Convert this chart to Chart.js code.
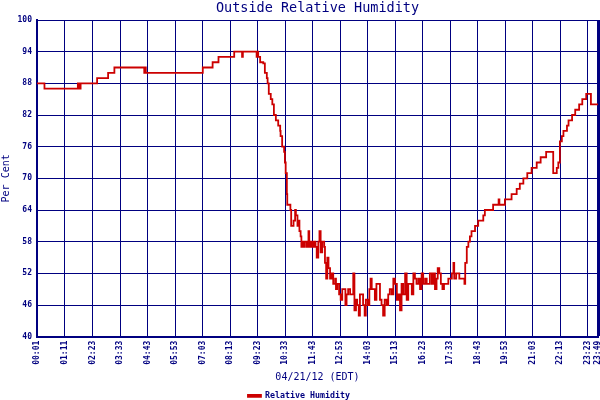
<!DOCTYPE html>
<html>
<head>
<meta charset="utf-8">
<script src="https://cdn.jsdelivr.net/npm/chart.js@4/dist/chart.umd.min.js"></script>
<style>
  html, body { margin: 0; padding: 0; background: #ffffff; }
  #wrap { width: 600px; height: 400px; position: relative; }
</style>
</head>
<body>
<div id="wrap"><canvas id="c" width="600" height="400"></canvas></div>
<script>
// ---- data ----
const times = ["00:01","00:20","01:45","01:49","01:52","02:34","03:02","03:18","04:34","04:36","04:38",
"07:03","07:28","07:43","08:23","08:43","08:45","09:20","09:22","09:24","09:29","09:37","09:41","09:46","09:48",
"09:51","09:56","10:00","10:04","10:09","10:15","10:20","10:21","10:25","10:30","10:32","10:34","10:37","10:38",
"10:46","10:48","10:51","10:54","10:58","11:00","11:04","11:06","11:09","11:12","11:14","11:17","11:21","11:23",
"11:28","11:30","11:32","11:34","11:38","11:42","11:46","11:50","11:53","11:57","12:00","12:03","12:07","12:12",
"12:14","12:17","12:20","12:23","12:27","12:31","12:35","12:40","12:42","12:45","12:50","12:54","12:58","13:03",
"13:06","13:09","13:13","13:18","13:22","13:26","13:29","13:33","13:36","13:40","13:43","13:47","13:51","13:55",
"13:58","14:03","14:07","14:10","14:13","14:17","14:21","14:25","14:29","14:34","14:38","14:42","14:46","14:51",
"14:55","14:59","15:04","15:08","15:12","15:17","15:21","15:25","15:29","15:33","15:38","15:42","15:46","15:50",
"15:55","15:59","16:03","16:07","16:12","16:16","16:20","16:24","16:29","16:33","16:37","16:41","16:46","16:50",
"16:54","16:58","17:01","17:05","17:09","17:13","17:17","17:24","17:28","17:32","17:37","17:41","17:43","17:48",
"17:52","17:56","18:02","18:06","18:09","18:11","18:15","18:19","18:23","18:27","18:32","18:36","18:44","18:57",
"19:01","19:22","19:36","19:38","19:52","20:09","20:22","20:30","20:39","20:49","21:00","21:13","21:23","21:37",
"21:55","22:04","22:08","22:12","22:17","22:21","22:25","22:30","22:34","22:43","22:51","23:01","23:09","23:19",
"23:31","23:49"];
const humidity = [88,87,88,87,88,89,90,91,90,91,90,
91,92,93,94,93,94,93,94,93,92,91.8,90,89,88,
86,85,84,82,81,80,79,78,76,75,73,71,67,65,
64,61,61,62,64,63,61,62,60,59,57,58,57,58,
57,58,60,57,58,57,58,57,55,58,60,56,58,57,
54,51,55,53,51,52,50,51,49,50,48,47,49,49,
46,48,49,48,48,52,45,47,46,44,48,48,46,44,
47,46,49,51,49,49,47,50,50,47,46,44,47,46,
48,49,48,51,50,47,48,45,50,48,52,47,50,50,
48,52,51,50,51,49,52,50,51,50,50,52,50,52,
49,51,53,52,50,49,50,50,51,51,52,54,51,52,
52,51,51,51,50,54,57,58,59,60,60,61,62,63,
64,65,66,65,66,67,68,69,70,71,72,73,74,75,
71,72,73,77,78,79,79,80,81,82,83,84,85,86,
84,84];
const xTickLabels = ["00:01","01:11","02:23","03:33","04:43","05:53","07:03","08:13","09:23","10:33","11:43",
"12:53","14:03","15:13","16:23","17:33","18:43","19:53","21:03","22:13","23:23","23:49"];
const yMin = 40, yMax = 100, yStep = 6;
const chartTitle = "Outside Relative Humidity";
const xTitle = "04/21/12 (EDT)";
const yTitle = "Per Cent";
const seriesName = "Relative Humidity";

// ---- helpers ----
const toMin = s => { const p = s.split(":"); return (+p[0]) * 60 + (+p[1]); };
const xTickValues = xTickLabels.map(toMin);
const points = times.map((t, i) => ({ x: toMin(t), y: humidity[i] }));

const NAVY = "#000080";
const RED = "#cc0000";
const MONO = "'DejaVu Sans Mono', 'Liberation Mono', monospace";

new Chart(document.getElementById("c"), {
  type: "line",
  data: {
    datasets: [{
      label: seriesName,
      data: points,
      stepped: true,
      borderColor: RED,
      backgroundColor: RED,
      borderWidth: 1.8,
      pointRadius: 0,
      fill: false,
      tension: 0
    }]
  },
  options: {
    responsive: false,
    animation: false,
    devicePixelRatio: 1,
    layout: { padding: { left: 0, right: 2, top: 0, bottom: -10 } },
    plugins: {
      title: {
        display: true,
        fullSize: false,
        text: chartTitle,
        color: NAVY,
        font: { family: MONO, size: 13.5, weight: "normal" },
        padding: { top: 0, bottom: 3.8 }
      },
      legend: {
        display: true,
        position: "bottom",
        labels: {
          color: NAVY,
          font: { family: MONO, size: 8.3, weight: "bold" },
          boxWidth: 13,
          boxHeight: 2,
          padding: 2
        }
      },
      tooltip: { enabled: false }
    },
    scales: {
      x: {
        type: "linear",
        min: xTickValues[0],
        max: xTickValues[xTickValues.length - 1],
        afterBuildTicks: s => { s.ticks = xTickValues.map(v => ({ value: v })); },
        afterFit: s => { s.height = 53; s.paddingLeft = 0; s.paddingRight = 0; },
        ticks: {
          autoSkip: false,
          minRotation: 90,
          maxRotation: 90,
          padding: 4,
          color: NAVY,
          font: { family: MONO, size: 8, weight: "bold" },
          callback: (v, i) => xTickLabels[i]
        },
        grid: {
          color: NAVY,
          lineWidth: c => (c.index === xTickValues.length - 1 ? 3 : 1),
          drawTicks: false
        },
        border: { display: true, color: NAVY, width: 2 },
        title: {
          display: true,
          text: xTitle,
          color: NAVY,
          font: { family: MONO, size: 10 },
          padding: { top: 0, bottom: 6 }
        }
      },
      y: {
        min: yMin,
        max: yMax,
        afterFit: s => { s.width = 37; },
        ticks: {
          stepSize: yStep,
          padding: 5,
          color: NAVY,
          font: { family: MONO, size: 8, weight: "bold" }
        },
        grid: { color: NAVY, lineWidth: 1, drawTicks: false },
        border: { display: true, color: NAVY, width: 2 },
        title: {
          display: true,
          text: yTitle,
          color: NAVY,
          font: { family: MONO, size: 10 },
          padding: { top: 0, bottom: 0 }
        }
      }
    }
  }
});
</script>
</body>
</html>
